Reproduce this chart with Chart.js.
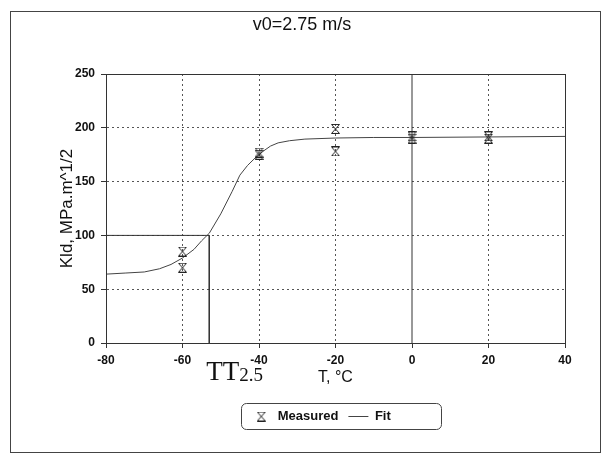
<!DOCTYPE html>
<html>
<head>
<meta charset="utf-8">
<script src="https://cdn.jsdelivr.net/npm/chart.js@4"></script>
<style>
  html, body { margin: 0; padding: 0; background: #fff; }
  #wrap { width: 604px; height: 457px; }
</style>
</head>
<body>
<div id="wrap"><canvas id="kChart"></canvas></div>
<script>
// measured points (two specimens per temperature)
var measuredT = [-60, -60, -40, -40, -20, -20, 0, 0, 20, 20];
var measuredK = [85, 70, 177, 175, 199, 178, 192, 190, 192, 190];

// fitted curve
var fitT = [-80, -75, -70, -66, -63, -60, -57, -55, -53, -50, -47, -45, -43, -41, -39, -37, -35, -32, -28, -20, -10, 0, 20, 40];
var fitK = [64, 65, 66, 69, 73, 79, 87, 95, 102, 120, 141, 156, 165, 172, 178, 183, 186, 188, 189.5, 190.5, 191, 191, 191.5, 192];

// transition temperature reference lines
var ttTemp = -53;
var ttK = 100;

var xTicks = [-80, -60, -40, -20, 0, 20, 40];
var yTicks = [0, 50, 100, 150, 200, 250];

var ink = '#333';
var padBottom = 24;

// hourglass marker like the original Excel symbol
function makeMarker() {
  var c = document.createElement('canvas');
  c.width = 9; c.height = 10;
  var g = c.getContext('2d');
  g.strokeStyle = '#222';
  g.lineWidth = 1;
  g.beginPath();
  g.moveTo(0.5, 0.5); g.lineTo(8.5, 0.5);
  g.lineTo(0.5, 9.5); g.lineTo(8.5, 9.5);
  g.closePath();
  g.stroke();
  return c;
}
var marker = makeMarker();

function pts(xs, ys) {
  return xs.map(function(x, i) { return { x: x, y: ys[i] }; });
}

function gridColor(ctx) {
  // the 0 °C line is drawn solid by its own dataset
  return ctx.tick && ctx.tick.value === 0 && ctx.scale.axis === 'x' ? 'rgba(0,0,0,0)' : '#555';
}

var extras = {
  id: 'extras',
  afterLayout: function(chart) {
    // nudge the legend to where it sits in the source picture
    chart.legend.left += 19;
    chart.legend.right += 19;
  },
  afterDatasetsDraw: function(chart) {
    var ctx = chart.ctx, a = chart.chartArea;
    ctx.save();
    ctx.strokeStyle = ink;
    ctx.lineWidth = 1;
    ctx.strokeRect(Math.round(a.left) + 0.5, Math.round(a.top) + 0.5,
      Math.round(a.right - a.left), Math.round(a.bottom - a.top));
    ctx.restore();
  },
  afterDraw: function(chart) {
    var ctx = chart.ctx;
    ctx.save();
    // outer frame
    ctx.strokeStyle = '#444';
    ctx.lineWidth = 1;
    ctx.strokeRect(10.5, 11.5, 590, 441);

    // legend box
    var hb = chart.legend.legendHitBoxes;
    if (hb && hb.length) {
      var l = hb[0].left - 10, r = hb[hb.length - 1].left + hb[hb.length - 1].width + 50;
      var t = hb[0].top - 7, b = hb[0].top + hb[0].height + 6;
      ctx.beginPath();
      ctx.roundRect(Math.round(l) + 0.5, Math.round(t) + 0.5, Math.round(r - l), Math.round(b - t), 5);
      ctx.strokeStyle = '#444';
      ctx.stroke();
    }

    // TT2.5 label
    var x = chart.scales.x.getPixelForValue(ttTemp) - 3;
    var y = chart.chartArea.bottom + 37;
    ctx.fillStyle = '#111';
    ctx.textBaseline = 'alphabetic';
    ctx.textAlign = 'left';
    ctx.font = '27px "Liberation Serif", "DejaVu Serif", serif';
    ctx.fillText('TT', x, y);
    var w = ctx.measureText('TT').width;
    ctx.font = '19px "Liberation Serif", "DejaVu Serif", serif';
    ctx.fillText('2.5', x + w, y + 1);
    ctx.restore();
  }
};

Chart.defaults.font.family = '"Liberation Sans", Arial, sans-serif';
Chart.defaults.color = '#222';

new Chart(document.getElementById('kChart').getContext('2d'), {
  type: 'scatter',
  data: {
    datasets: [{
      label: 'Measured',
      data: pts(measuredT, measuredK),
      pointStyle: marker,
      pointRadius: 5,
      showLine: false
    }, {
      label: 'Fit',
      data: pts(fitT, fitK),
      showLine: true,
      borderColor: '#444',
      borderWidth: 1,
      pointRadius: 0,
      pointStyle: 'line',
      tension: 0
    }, {
      label: 'TT',
      data: [{ x: xTicks[0], y: ttK }, { x: ttTemp, y: ttK }, { x: ttTemp, y: yTicks[0] }],
      showLine: true,
      borderColor: ink,
      borderWidth: 1,
      pointRadius: 0
    }, {
      label: 'zero',
      data: [{ x: 0, y: yTicks[0] }, { x: 0, y: yTicks[yTicks.length - 1] }],
      showLine: true,
      borderColor: ink,
      borderWidth: 1,
      pointRadius: 0
    }]
  },
  options: {
    responsive: true,
    maintainAspectRatio: false,
    animation: false,
    layout: { padding: { left: 0, right: 0, top: 0, bottom: padBottom } },
    plugins: {
      title: {
        display: true,
        text: 'v0=2.75 m/s',
        color: '#111',
        font: { size: 18, weight: 'normal' },
        padding: { top: 14, bottom: 38.4 }
      },
      legend: {
        position: 'bottom',
        labels: {
          usePointStyle: true,
          pointStyleWidth: 20,
          padding: 10,
          color: '#111',
          font: { size: 13, weight: 'bold' },
          filter: function(item) { return item.datasetIndex < 2; }
        }
      },
      tooltip: { enabled: false }
    },
    scales: {
      x: {
        type: 'linear',
        min: xTicks[0],
        max: xTicks[xTicks.length - 1],
        afterBuildTicks: function(s) { s.ticks = xTicks.map(function(v) { return { value: v }; }); },
        afterFit: function(s) {
          var lh = (s.chart.legend && s.chart.legend.height) || 44.4;
          s.height = s.chart.height - padBottom - lh - 343;
        },
        ticks: { font: { size: 12, weight: 'bold' }, color: '#111', padding: 5, maxRotation: 0 },
        grid: { color: gridColor, tickColor: ink, tickLength: 5, tickBorderDash: [] },
        border: { display: true, color: ink, width: 1, dash: [2, 3] },
        title: {
          display: true,
          text: 'T, °C',
          color: '#111',
          font: { size: 16, weight: 'normal' },
          padding: { top: 0, bottom: 13 }
        }
      },
      y: {
        min: yTicks[0],
        max: yTicks[yTicks.length - 1],
        afterBuildTicks: function(s) { s.ticks = yTicks.map(function(v) { return { value: v }; }); },
        afterFit: function(s) { s.width = 106; },
        ticks: { font: { size: 12, weight: 'bold' }, color: '#111', padding: 6 },
        grid: { color: '#555', tickColor: ink, tickLength: 5, tickBorderDash: [] },
        border: { display: true, color: ink, width: 1, dash: [2, 3] },
        title: {
          display: true,
          text: 'Kld, MPa.m^1/2',
          color: '#111',
          font: { size: 17, weight: 'normal' },
          padding: { top: 57, bottom: 0 }
        }
      },
      yR: {
        position: 'right',
        display: true,
        min: yTicks[0],
        max: yTicks[yTicks.length - 1],
        ticks: { display: false },
        grid: { display: false },
        border: { display: false },
        afterFit: function(s) { s.width = 39; }
      }
    }
  },
  plugins: [extras]
});
</script>
</body>
</html>
